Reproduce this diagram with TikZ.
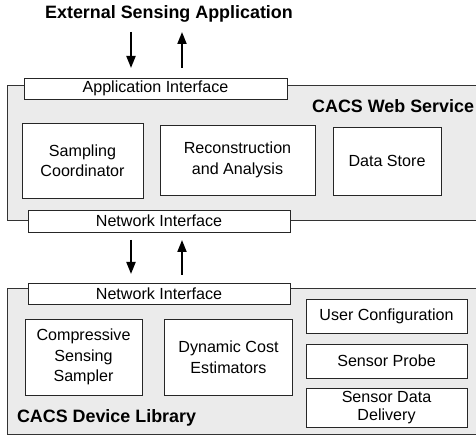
\documentclass[tikz,border=0pt]{standalone}
\usepackage{fontspec}
\setmainfont{Liberation Sans}
\usetikzlibrary{arrows.meta}
\begin{document}
\begin{tikzpicture}[x=1pt,y=-1pt,
  every node/.style={inner sep=0pt,outer sep=0pt},
  panel/.style={draw=black!80,line width=0.9pt,fill=black!8},
  box/.style={draw=black!85,line width=0.9pt,fill=white,align=center,
    font=\fontsize{16.1}{20.5}\selectfont},
  ttl/.style={font=\fontsize{17.9}{21}\selectfont\bfseries},
  arr/.style={line width=1.8pt,-{Triangle[length=12pt,width=9pt]}}]
\clip (0,0) rectangle (476,443);
\useasboundingbox (0,0) rectangle (476,443);
% panels
\draw[panel] (7,85) rectangle (482,220);
\draw[panel] (7,288) rectangle (482,434);
% title
\node[ttl] (title) at (169,14) {External Sensing Application};
\node[ttl,anchor=east] (websvc) at (474,106) {CACS Web Service};
\node[ttl,anchor=west] (devlib) at (17,418) {CACS Device Library};
% interfaces
\node[box,minimum width=263pt,minimum height=21pt] (appif) at (155.5,88.5) {Application Interface};
\node[box,minimum width=262pt,minimum height=22pt] (netifA) at (159,221) {Network Interface};
\node[box,minimum width=262pt,minimum height=21pt] (netifB) at (159,293.5) {Network Interface};
% web service boxes
\node[box,minimum width=121pt,minimum height=75pt] (samp) at (82.5,160.5) {Sampling\\Coordinator};
\node[box,minimum width=155pt,minimum height=70pt] (recon) at (237.5,160) {Reconstruction\\and Analysis};
\node[box,minimum width=108pt,minimum height=68pt] (store) at (387,161) {Data Store};
% device boxes
\node[box,minimum width=117pt,minimum height=76pt] (css) at (83.5,357) {Compressive\\Sensing\\Sampler};
\node[box,minimum width=128pt,minimum height=76pt] (dce) at (228.5,357) {Dynamic Cost\\Estimators};
\node[box,minimum width=161pt,minimum height=34pt] (ucfg) at (386.5,316) {User Configuration};
\node[box,minimum width=161pt,minimum height=34pt] (probe) at (386.5,361) {Sensor Probe};
\node[box,minimum width=161pt,minimum height=39pt,
  font=\fontsize{16.1}{18}\selectfont] (deliv) at (386.5,408) {Sensor Data\\Delivery};
% arrow end points
\coordinate (a1s) at (131,32); \coordinate (a1e) at (131,68);
\coordinate (a2s) at (182,68); \coordinate (a2e) at (182,32);
\coordinate (a3s) at (131,240); \coordinate (a3e) at (131,274);
\coordinate (a4s) at (182,275); \coordinate (a4e) at (182,240);
\draw[arr] (a1s) -- (a1e);
\draw[arr] (a2s) -- (a2e);
\draw[arr] (a3s) -- (a3e);
\draw[arr] (a4s) -- (a4e);
\end{tikzpicture}
\end{document}
